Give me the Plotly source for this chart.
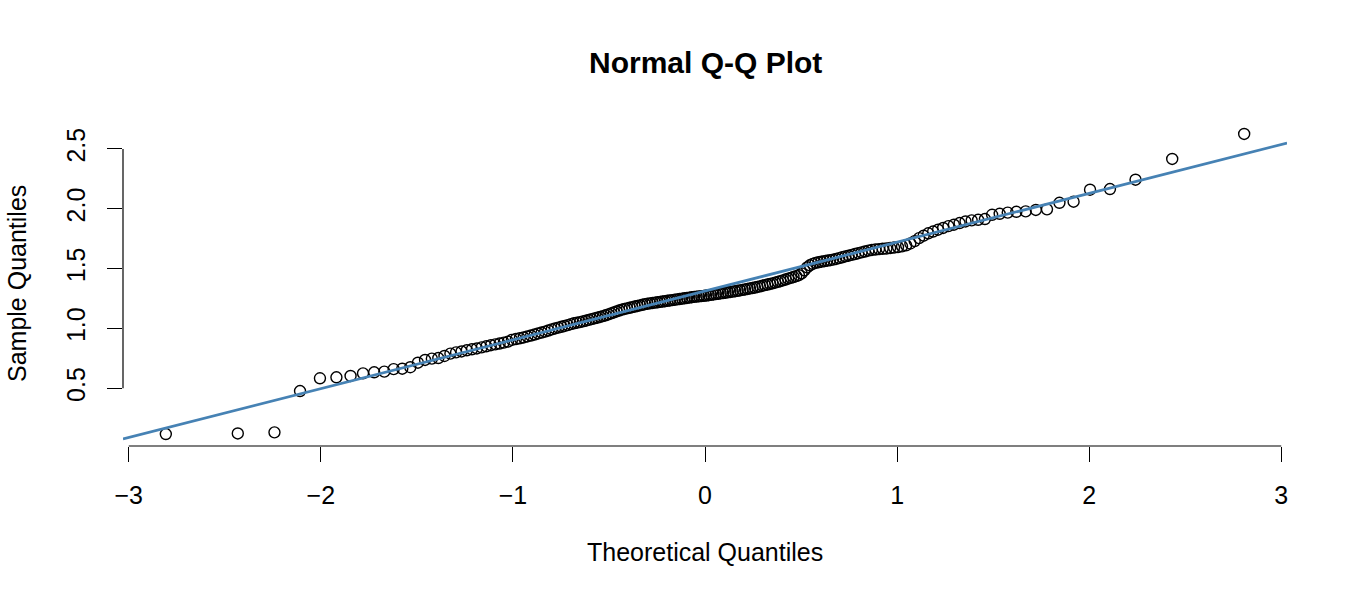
import statistics
import plotly.graph_objects as go

# Sorted sample values, n = 200
sample_quantiles = [
    0.118, 0.123, 0.132, 0.477, 0.584, 0.592, 0.603, 0.625, 0.634, 0.639,
    0.660, 0.664, 0.676, 0.714, 0.737, 0.748, 0.753, 0.770, 0.790, 0.800,
    0.808, 0.818, 0.826, 0.833, 0.842, 0.851, 0.860, 0.867, 0.874, 0.882,
    0.890, 0.905, 0.912, 0.918, 0.925, 0.933, 0.941, 0.949, 0.958, 0.966,
    0.974, 0.983, 0.992, 1.000, 1.007, 1.014, 1.021, 1.028, 1.036, 1.043,
    1.048, 1.053, 1.059, 1.065, 1.072, 1.078, 1.084, 1.090, 1.096, 1.103,
    1.110, 1.118, 1.126, 1.134, 1.142, 1.150, 1.157, 1.163, 1.168, 1.173,
    1.178, 1.183, 1.188, 1.193, 1.198, 1.203, 1.207, 1.210, 1.213, 1.216,
    1.219, 1.222, 1.225, 1.228, 1.231, 1.234, 1.237, 1.240, 1.243, 1.246,
    1.249, 1.252, 1.255, 1.258, 1.261, 1.264, 1.266, 1.268, 1.270, 1.272,
    1.275, 1.278, 1.281, 1.284, 1.287, 1.290, 1.293, 1.296, 1.299, 1.302,
    1.305, 1.308, 1.311, 1.315, 1.318, 1.322, 1.326, 1.330, 1.334, 1.338,
    1.342, 1.347, 1.352, 1.357, 1.362, 1.367, 1.372, 1.377, 1.383, 1.389,
    1.395, 1.402, 1.409, 1.416, 1.423, 1.430, 1.437, 1.445, 1.460, 1.485,
    1.510, 1.528, 1.540, 1.548, 1.553, 1.558, 1.562, 1.566, 1.570, 1.575,
    1.581, 1.588, 1.595, 1.602, 1.608, 1.615, 1.622, 1.629, 1.636, 1.643,
    1.650, 1.656, 1.660, 1.663, 1.666, 1.668, 1.672, 1.676, 1.680, 1.686,
    1.695, 1.710, 1.730, 1.755, 1.775, 1.795, 1.810, 1.825, 1.840, 1.855,
    1.867, 1.881, 1.894, 1.903, 1.908, 1.914, 1.950, 1.958, 1.968, 1.975,
    1.978, 1.990, 1.995, 2.050, 2.059, 2.159, 2.165, 2.243, 2.416, 2.625,
]

# Reference line (qqline)
line_intercept = 1.313
line_slope = 0.408

x_tickvals = [-3, -2, -1, 0, 1, 2, 3]
x_ticktext = ["\u22123", "\u22122", "\u22121", "0", "1", "2", "3"]
y_tickvals = [0.5, 1.0, 1.5, 2.0, 2.5]
y_ticktext = ["0.5", "1.0", "1.5", "2.0", "2.5"]

title_text = "Normal Q-Q Plot"
x_label = "Theoretical Quantiles"
y_label = "Sample Quantiles"

x_range = [-3.03, 3.03]
y_range = [0.018, 2.725]

# Theoretical quantiles as in R's qqnorm (ppoints)
n = len(sample_quantiles)
a = 0.5 if n > 10 else 3.0 / 8.0
nd = statistics.NormalDist()
theoretical = [nd.inv_cdf((i - a) / (n + 1 - 2 * a)) for i in range(1, n + 1)]

FONT = "Liberation Sans, Arial, Helvetica, sans-serif"

fig = go.Figure()
fig.add_trace(go.Scatter(
    x=theoretical, y=sample_quantiles, mode="markers",
    marker=dict(symbol="circle-open", size=11, color="black",
                line=dict(width=1.4, color="black")),
    showlegend=False, hoverinfo="x+y",
))
line_x = list(x_range)
line_y = [line_intercept + line_slope * v for v in line_x]
fig.add_trace(go.Scatter(
    x=line_x, y=line_y, mode="lines",
    line=dict(color="#4682B4", width=2.8),
    showlegend=False, hoverinfo="skip",
))

fig.update_layout(
    width=1350, height=600,
    margin=dict(l=123, r=63, t=122, b=154),
    paper_bgcolor="white", plot_bgcolor="white",
    font=dict(family=FONT, color="black"),
    xaxis=dict(range=x_range, tickvals=x_tickvals, ticktext=x_ticktext,
               ticks="outside", ticklen=15, tickwidth=1.2, tickcolor="black",
               showgrid=False, zeroline=False, showline=False,
               ticklabelstandoff=12,
               tickfont=dict(size=25, family=FONT, color="black")),
    yaxis=dict(range=y_range, tickvals=y_tickvals, ticktext=y_ticktext,
               ticks="outside", ticklen=15, tickwidth=1.2, tickcolor="black",
               showgrid=False, zeroline=False, showline=False, tickangle=-90,
               ticklabelstandoff=12,
               tickfont=dict(size=25, family=FONT, color="black")),
    shapes=[
        dict(type="line", xref="x", yref="paper",
             x0=x_tickvals[0], x1=x_tickvals[-1], y0=0, y1=0,
             line=dict(color="black", width=1.2)),
        dict(type="line", xref="paper", yref="y",
             x0=0, x1=0, y0=y_tickvals[0], y1=y_tickvals[-1],
             line=dict(color="black", width=1.2)),
    ],
    annotations=[
        dict(text="<b>" + title_text + "</b>", xref="paper", yref="paper",
             x=0.5, y=1, yshift=60, xanchor="center", yanchor="middle",
             showarrow=False, font=dict(size=30, family=FONT, color="black")),
        dict(text=x_label, xref="paper", yref="paper",
             x=0.5, y=0, yshift=-106, xanchor="center", yanchor="middle",
             showarrow=False, font=dict(size=25, family=FONT, color="black")),
        dict(text=y_label, xref="paper", yref="paper",
             x=0, y=0.5, xshift=-106, xanchor="center", yanchor="middle",
             textangle=-90, showarrow=False,
             font=dict(size=25, family=FONT, color="black")),
    ],
)

fig.write_html("out.html")
